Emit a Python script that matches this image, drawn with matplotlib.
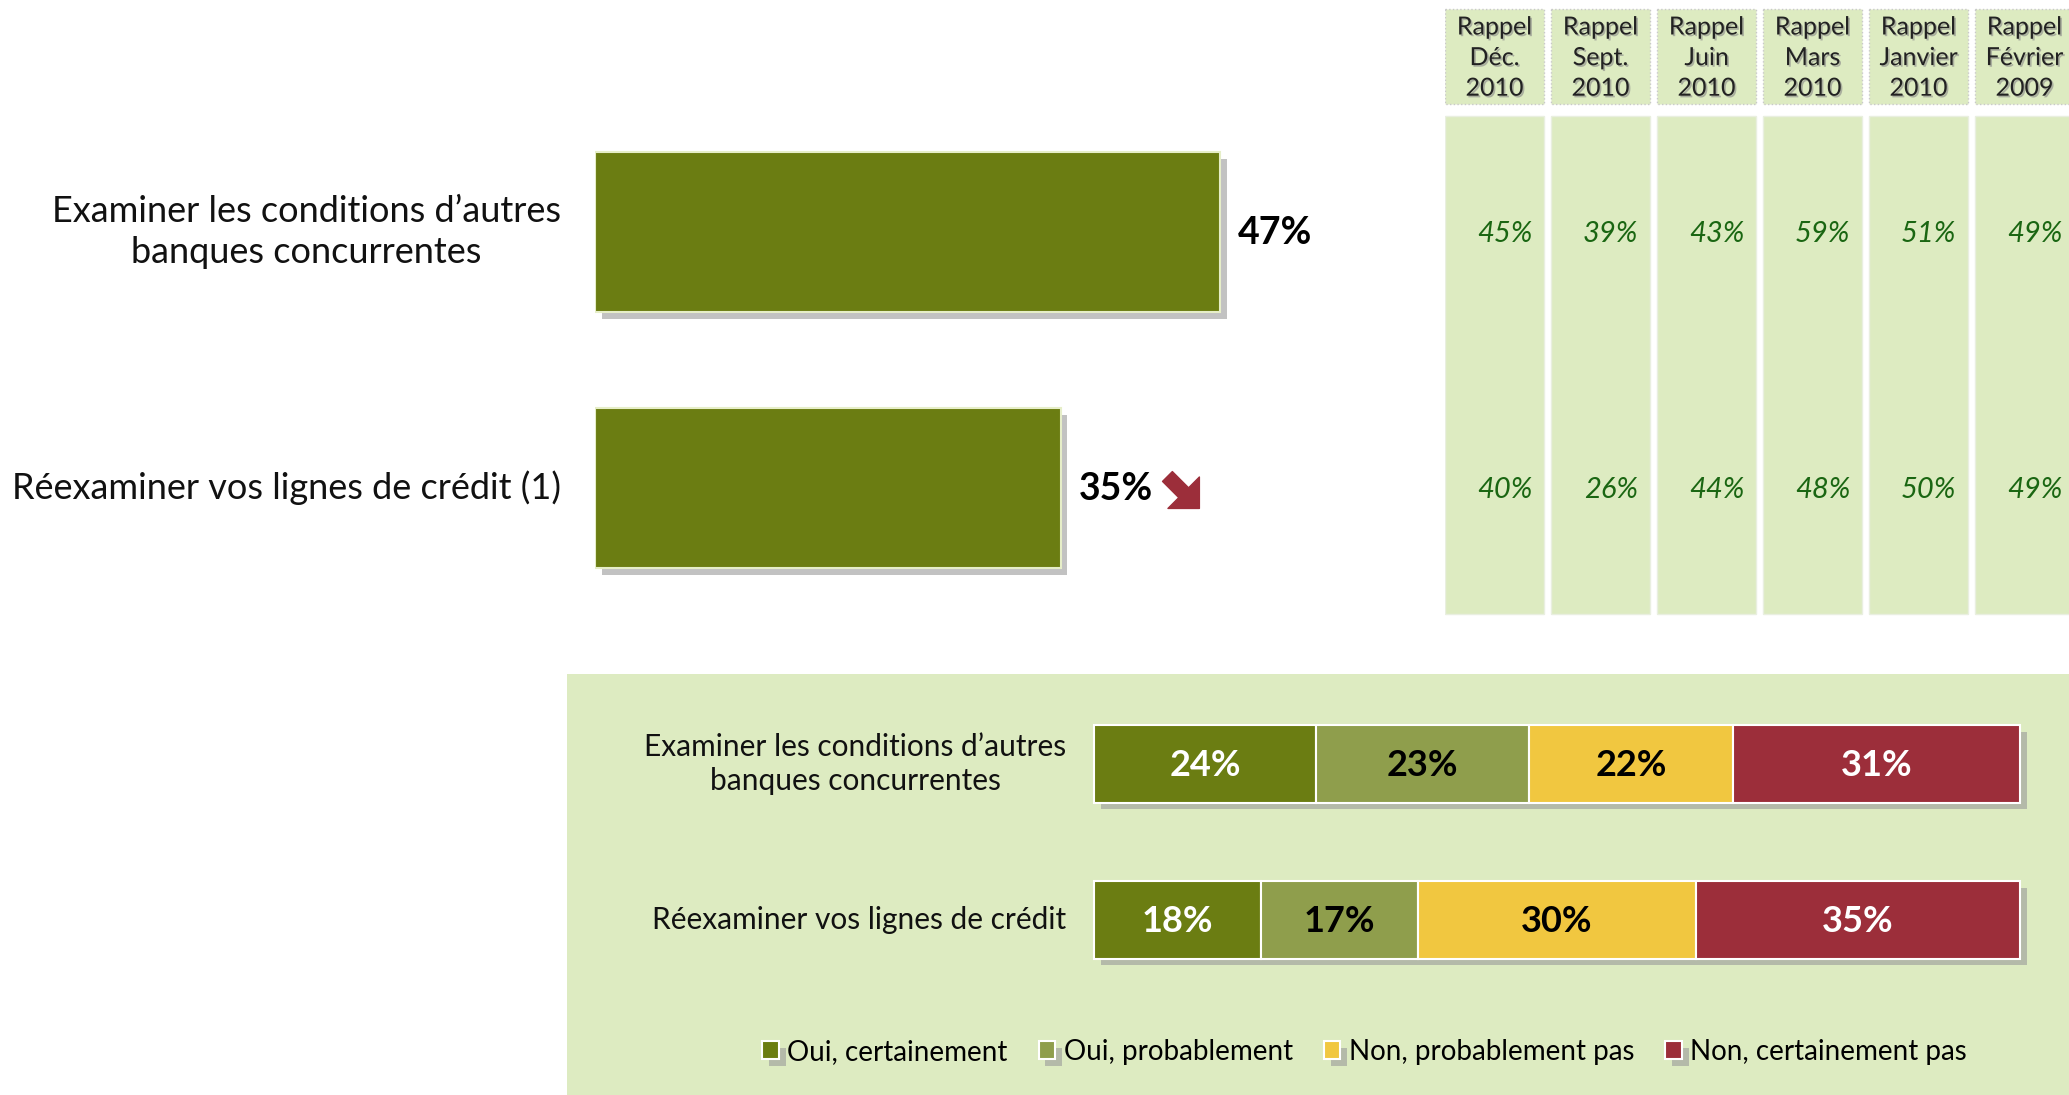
import matplotlib.pyplot as plt
import matplotlib.patheffects as pe
from matplotlib.transforms import offset_copy

plt.rcParams['font.family'] = ['Lato', 'DejaVu Sans']

# top block: current wave
items = ["Examiner les conditions d’autres\nbanques concurrentes",
         "Réexaminer vos lignes de crédit (1)"]
totals = [47, 35]
trend = [None, 'down']

# reminder columns (previous waves)
waves = ["Rappel\nDéc.\n2010", "Rappel\nSept.\n2010", "Rappel\nJuin\n2010",
         "Rappel\nMars\n2010", "Rappel\nJanvier\n2010", "Rappel\nFévrier\n2009"]
hist_exam = [45, 39, 43, 59, 51, 49]
hist_credit = [40, 26, 44, 48, 50, 49]

# bottom block: detail of answers
items_short = ["Examiner les conditions d’autres\nbanques concurrentes",
               "Réexaminer vos lignes de crédit"]
answers = ["Oui, certainement", "Oui, probablement",
           "Non, probablement pas", "Non, certainement pas"]
shares_exam = [24, 23, 22, 31]
shares_credit = [18, 17, 30, 35]

colors = ['#6B7D12', '#8F9E4C', '#F1C740', '#9C2E3A']
text_colors = ['white', 'black', 'black', 'white']
pale = '#DDEBC1'

W, H = 2069, 1095
fig = plt.figure(figsize=(W / 100, H / 100), dpi=100)


def px_axes(left, top, right, bottom, **kw):
    return fig.add_axes([left / W, 1 - bottom / H, (right - left) / W, (bottom - top) / H], **kw)


shadow = [pe.SimplePatchShadow(offset=(5, -5), shadow_rgbFace='#9A9A9A', alpha=0.6), pe.Normal()]

# ---- top bars
ax = px_axes(595, 103.6, 1393, 615.6)
ax.set_xlim(0, 60)
ax.set_ylim(1.5, -0.5)
ax.axis('off')
ypos = range(len(totals))
ax.barh(ypos, totals, height=0.625, color=colors[0], edgecolor='#E6EEC8',
        linewidth=1.5, path_effects=shadow)
for y, v, lab, t in zip(ypos, totals, items, trend):
    ax.annotate(f"{v}%", (v, y), xytext=(13, -1), textcoords='offset points',
                ha='left', va='center', fontsize=27, fontweight='bold')
    ax.text(-2.56, y, lab, ha='right', va='center', multialignment='center',
            fontsize=26, color='#111111', linespacing=1.3)
    if t == 'down':
        tail = offset_copy(ax.transData, fig=fig, x=77, y=8, units='points')
        head = offset_copy(ax.transData, fig=fig, x=100, y=-15, units='points')
        ax.annotate('', xy=(v, y), xycoords=head, xytext=(v, y), textcoords=tail,
                    arrowprops=dict(arrowstyle='simple,head_length=0.8,head_width=1.6,tail_width=0.5',
                                    color=colors[3], mutation_scale=20,
                                    shrinkA=0, shrinkB=0))

# ---- reminder table
at = px_axes(1445, 0, 2069, 620)
at.set_xlim(0, 5.887)
at.set_ylim(1.517, -0.905)
at.axis('off')
cols = range(len(waves))
at.bar(cols, 0.37, bottom=-0.87, width=0.934, align='edge', color=pale,
       edgecolor='#C9C9C9', linestyle=':', linewidth=1)
at.bar(cols, 1.944, bottom=-0.45, width=0.934, align='edge', color=pale,
       edgecolor='#E9EFE0', linewidth=1)
txt_shadow = [pe.SimplePatchShadow(offset=(1.2, -1.2), shadow_rgbFace='#888888', alpha=0.6), pe.Normal()]
for i, w in enumerate(waves):
    at.text(i + 0.467, -0.68, w, ha='center', va='center', fontsize=18,
            color='#222222', linespacing=1.4, path_effects=txt_shadow)
for row, hist in enumerate([hist_exam, hist_credit]):
    for i, v in enumerate(hist):
        at.text(i + 0.934 - 0.11, row + 0.01, f"{v}%", ha='right', va='center',
                fontsize=21, fontstyle='italic', color='#1A6612')

# ---- bottom detail panel
ab = px_axes(567, 674, 2069, 1095, facecolor=pale)
ab.set_xlim(-56.9, 105.3)
ab.set_ylim(2.122, -0.577)
ab.set_xticks([])
ab.set_yticks([])
for s in ab.spines.values():
    s.set_visible(False)

rows = [shares_exam, shares_credit]
left = [0] * len(rows)
handles = []
for k, ans in enumerate(answers):
    vals = [r[k] for r in rows]
    b = ab.barh(range(len(rows)), vals, left=left, height=0.494, color=colors[k],
                edgecolor='white', linewidth=1.5, path_effects=shadow, label=ans)
    handles.append(b)
    for y, (l, v) in enumerate(zip(left, vals)):
        ab.text(l + v / 2, y + 0.01, f"{v}%", ha='center', va='center', fontsize=26,
                fontweight='bold', color=text_colors[k])
    left = [l + v for l, v in zip(left, vals)]

for y, lab in enumerate(items_short):
    ab.text(-3.0, y, lab, ha='right', va='center', multialignment='center',
            fontsize=21.5, color='#111111', linespacing=1.3)

ab.legend(handles=handles, loc='center', bbox_to_anchor=(0.531, 0.102), ncol=4,
          frameon=False, fontsize=20, handlelength=0.6, handleheight=0.6,
          handletextpad=0.3, columnspacing=1.12)

fig.savefig('out.png', dpi=100, facecolor='white')
